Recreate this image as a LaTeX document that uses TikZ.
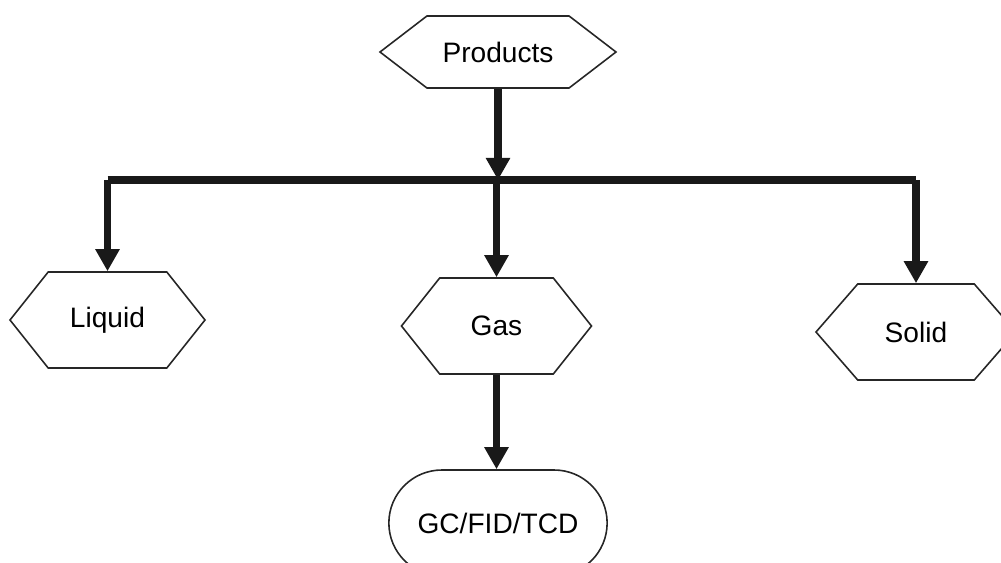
\documentclass[tikz,border=0pt]{standalone}
\usepackage{fontspec}
\setmainfont{Liberation Sans}
\usetikzlibrary{arrows.meta,positioning,shapes.symbols,shapes.misc}

\begin{document}
\begin{tikzpicture}[
    hexbox/.style={signal,signal to=west and east,draw=black!85,line width=0.9pt,
      inner sep=0pt,minimum height=1.92cm,signal pointer angle=103,font=\fontsize{16}{19}\selectfont},
    conn/.style={line width=4pt,draw=black!90},
    arr/.style={conn,-{Triangle[length=0.44cm,width=0.46cm]}}]
  \clip (0,0) rectangle (20.02,-11.26);
  % nodes
  \node[hexbox,minimum width=4.72cm,minimum height=1.44cm,signal pointer angle=75] (prod) at (9.96,-1.04) {Products};
  \node[hexbox,minimum width=3.9cm] (liq) at (2.15,-6.40) {Liquid};
  \node[hexbox,minimum width=3.8cm] (gas) at (9.93,-6.52) {Gas};
  \node[hexbox,minimum width=4.0cm,signal pointer angle=98] (sol) at (18.32,-6.64) {Solid};
  \node[rounded rectangle,draw=black!85,line width=0.9pt,minimum width=4.6cm,minimum height=2.12cm,
    font=\fontsize{16}{19}\selectfont] (gc) at (9.96,-10.46) {GC/FID/TCD};
  \coordinate (bus) at (9.94,-3.60);
  % connectors
  \draw[conn] (bus -| liq.north) -- (bus -| sol.north);
  \draw[arr] (prod.south) -- (prod.south |- bus);
  \draw[arr] (bus -| liq.north) -- (liq.north);
  \draw[arr] (bus -| gas.north) -- (gas.north);
  \draw[arr] (bus -| sol.north) -- (sol.north);
  \draw[arr] (gas.south) -- (gas.south |- gc.north);
\end{tikzpicture}
\end{document}
